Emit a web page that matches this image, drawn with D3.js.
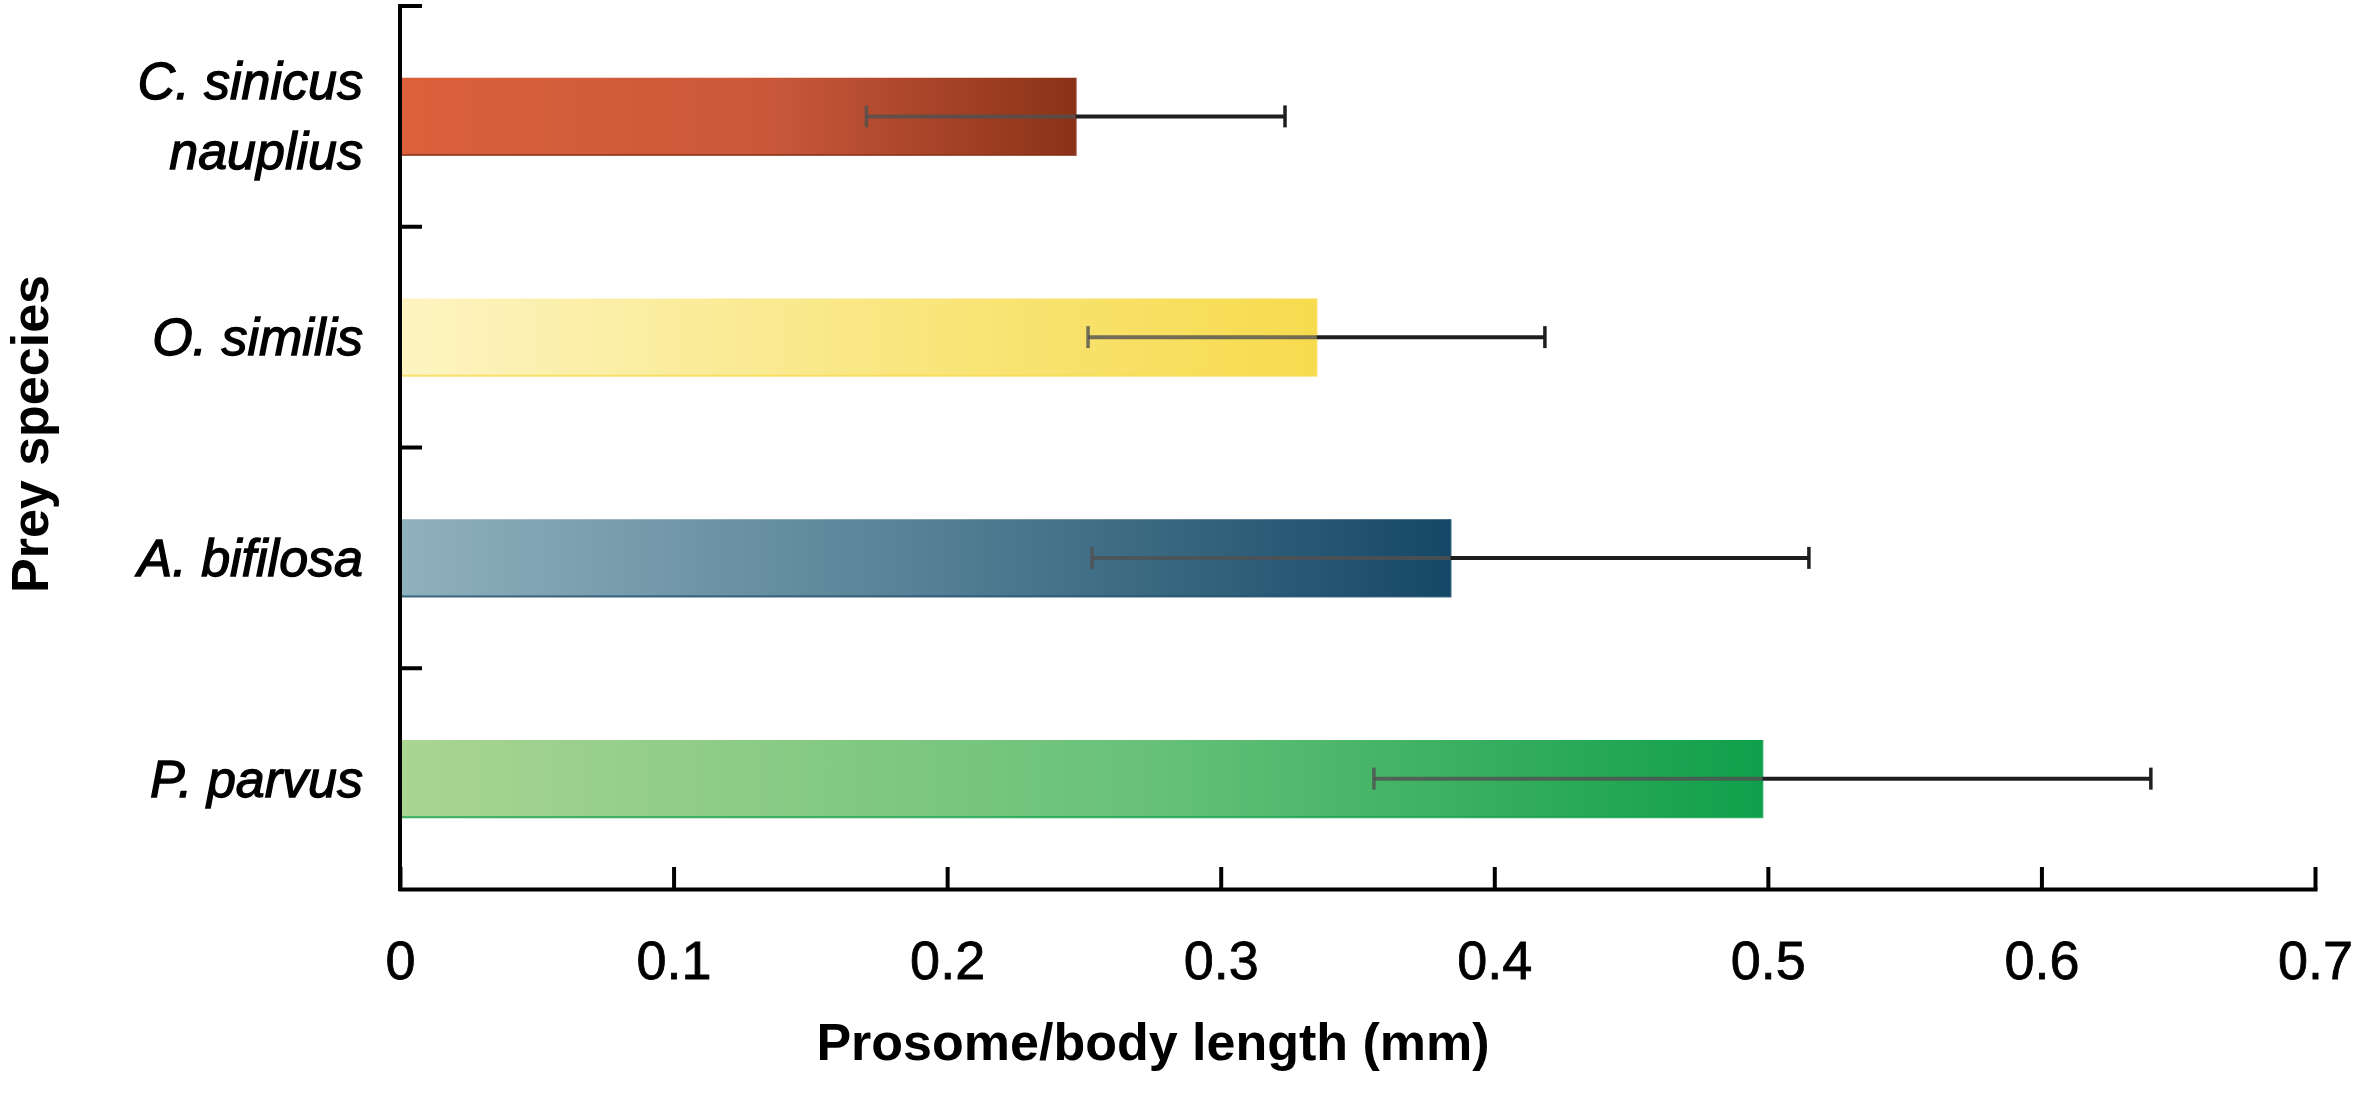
<!DOCTYPE html>
<html>
<head>
<meta charset="utf-8">
<script src="https://cdn.jsdelivr.net/npm/d3@7"></script>
<style>
  html, body { margin: 0; padding: 0; background: #ffffff; }
  svg { display: block; }
</style>
</head>
<body>
<div id="chart"></div>
<script>
// ---- data ----
const categories = ["C. sinicus nauplius", "O. similis", "A. bifilosa", "P. parvus"];
const labelLines = [["C. sinicus", "nauplius"], ["O. similis"], ["A. bifilosa"], ["P. parvus"]];
const means = [0.247, 0.335, 0.384, 0.498];
const sds = [0.0765, 0.0835, 0.131, 0.142];
const xTicks = [0, 0.1, 0.2, 0.3, 0.4, 0.5, 0.6, 0.7];
const tickLabels = ["0", "0.1", "0.2", "0.3", "0.4", "0.5", "0.6", "0.7"];
const gradLeft = ["#dc613b", "#fdf4c2", "#90b1be", "#aad592"];
const gradMid = ["#c9583a", "#f9e67e", "#4f7b91", "#67c179"];
const gradRight = ["#8a3219", "#f7db4e", "#154866", "#0f9f4a"];
const xTitle = "Prosome/body length (mm)";
const yTitle = "Prey species";

const W = 2362, H = 1096;
const svg = d3.select("#chart").append("svg").attr("width", W).attr("height", H);

const x = d3.scaleLinear().domain([0, 0.7]).range([400, 2315]);
const y = d3.scaleBand().domain(categories).range([6, 889]).paddingInner(0.65).paddingOuter(0.325);

// gradients
const defs = svg.append("defs");
categories.forEach((c, i) => {
  const g = defs.append("linearGradient").attr("id", "g" + i)
    .attr("x1", "0%").attr("x2", "100%").attr("y1", "0%").attr("y2", "0%");
  g.append("stop").attr("offset", "0%").attr("stop-color", gradLeft[i]);
  g.append("stop").attr("offset", "55%").attr("stop-color", gradMid[i]);
  g.append("stop").attr("offset", "100%").attr("stop-color", gradRight[i]);
});

// bars
const bars = svg.append("g");
categories.forEach((c, i) => {
  bars.append("rect")
    .attr("x", x(0))
    .attr("y", y(c))
    .attr("width", x(means[i]) - x(0))
    .attr("height", y.bandwidth())
    .attr("fill", "url(#g" + i + ")");
  bars.append("path")
    .attr("d", `M${x(0)},${y(c) + y.bandwidth()}H${x(means[i])}V${y(c)}`)
    .attr("fill", "none").attr("stroke", gradRight[i]).attr("stroke-width", 2)
    .attr("stroke-opacity", 0.8);
});

// error bars
const eb = svg.append("g");
const capH = 22;
categories.forEach((c, i) => {
  const cy = y(c) + y.bandwidth() / 2;
  const lo = x(means[i] - sds[i]), mid = x(means[i]), hi = x(means[i] + sds[i]);
  eb.append("line").attr("x1", lo).attr("x2", mid).attr("y1", cy).attr("y2", cy)
    .attr("stroke", "#505050").attr("stroke-opacity", 0.8).attr("stroke-width", 4);
  eb.append("line").attr("x1", lo).attr("x2", lo).attr("y1", cy - capH / 2).attr("y2", cy + capH / 2)
    .attr("stroke", "#505050").attr("stroke-opacity", 0.8).attr("stroke-width", 3.5);
  eb.append("line").attr("x1", mid).attr("x2", hi).attr("y1", cy).attr("y2", cy)
    .attr("stroke", "#1e1e1e").attr("stroke-width", 4);
  eb.append("line").attr("x1", hi).attr("x2", hi).attr("y1", cy - capH / 2).attr("y2", cy + capH / 2)
    .attr("stroke", "#1e1e1e").attr("stroke-width", 3.5);
});

// x axis
const xAxis = d3.axisBottom(x)
  .tickValues(xTicks)
  .tickFormat((d, i) => tickLabels[i])
  .tickSizeInner(-22)
  .tickSizeOuter(0)
  .tickPadding(52);
const gx = svg.append("g").attr("transform", "translate(0,889)").call(xAxis);
gx.select(".domain").attr("stroke", "#000").attr("stroke-width", 4).attr("stroke-linecap", "square");
gx.selectAll(".tick line").attr("stroke", "#000").attr("stroke-width", 4);
gx.selectAll(".tick text")
  .attr("fill", "#000").attr("stroke", "#000").attr("stroke-width", 0.8)
  .style("font-family", "'Liberation Sans', Arial, sans-serif")
  .style("font-size", "54px");

// y axis (ticks at band boundaries)
const yTop = y.range()[0], yBot = y.range()[1];
svg.append("line").attr("x1", x(0)).attr("x2", x(0)).attr("y1", yTop - 2).attr("y2", yBot + 2)
  .attr("stroke", "#000").attr("stroke-width", 4);
const boundaries = categories.map(c => y(c) - y.step() * y.paddingInner() / 2);
svg.append("g").selectAll("line").data(boundaries).join("line")
  .attr("x1", x(0)).attr("x2", x(0) + 22)
  .attr("y1", d => d).attr("y2", d => d)
  .attr("stroke", "#000").attr("stroke-width", 4);

// category labels
const lab = svg.append("g")
  .style("font-family", "'Liberation Sans', Arial, sans-serif")
  .style("font-style", "italic")
  .style("font-size", "52px")
  .attr("fill", "#000").attr("stroke", "#000").attr("stroke-width", 1.3)
  .attr("text-anchor", "end");
categories.forEach((c, i) => {
  const cy = y(c) + y.bandwidth() / 2;
  const lines = labelLines[i];
  const lh = 70;
  lines.forEach((t, j) => {
    const off = (j - (lines.length - 1) / 2) * lh;
    lab.append("text").attr("x", 363).attr("y", cy + off + 18).text(t);
  });
});

// axis titles
svg.append("text")
  .attr("x", 1153).attr("y", 1060)
  .attr("text-anchor", "middle")
  .style("font-family", "'Liberation Sans', Arial, sans-serif")
  .style("font-weight", "bold")
  .style("font-size", "52px")
  .attr("fill", "#000")
  .text(xTitle);
svg.append("text")
  .attr("transform", "translate(48,434) rotate(-90)")
  .attr("text-anchor", "middle")
  .style("font-family", "'Liberation Sans', Arial, sans-serif")
  .style("font-weight", "bold")
  .style("font-size", "52px")
  .attr("fill", "#000")
  .text(yTitle);
</script>
</body>
</html>
